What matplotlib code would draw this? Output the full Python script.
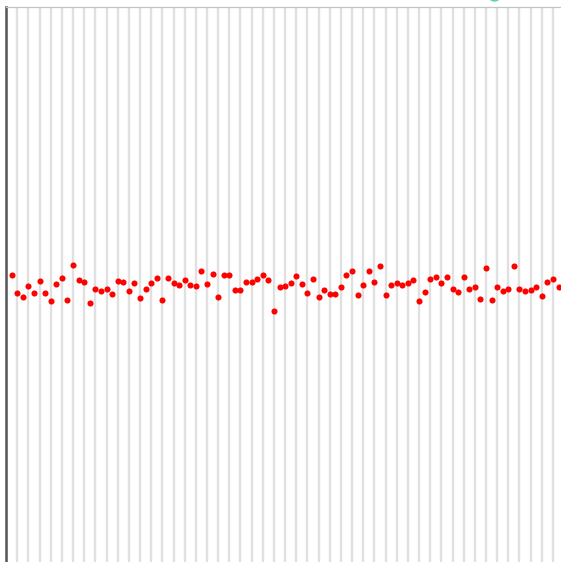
import matplotlib
matplotlib.use("Agg")
import matplotlib.pyplot as plt
from matplotlib.patches import Ellipse

# values (x = 1..99, y on a 0..100 scale)
x_vals = list(range(1, 100))
y_vals = [
    52.0, 48.8, 48.1, 50.0, 48.8, 50.9, 48.7, 47.3, 50.3, 51.5,
    47.5, 53.7, 51.1, 50.7, 46.9, 49.4, 49.1, 49.4, 48.6, 50.9,
    50.7, 49.1, 50.6, 47.9, 49.5, 50.5, 51.5, 47.5, 51.5, 50.6,
    50.1, 51.1, 50.1, 50.0, 52.6, 50.4, 52.2, 48.1, 52.0, 52.0,
    49.2, 49.2, 50.7, 50.7, 51.2, 52.0, 51.1, 45.6, 49.9, 50.0,
    50.5, 51.8, 50.4, 48.7, 51.3, 48.0, 49.2, 48.5, 48.6, 49.8,
    52.0, 52.6, 48.4, 50.1, 52.7, 50.8, 53.5, 48.4, 50.1, 50.6,
    50.2, 50.6, 51.0, 47.4, 49.0, 51.2, 51.7, 50.5, 51.7, 49.5,
    48.9, 51.7, 49.5, 49.9, 47.6, 53.2, 47.5, 49.8, 49.1, 49.5,
    53.5, 49.5, 49.1, 49.3, 49.8, 48.2, 50.7, 51.3, 49.8,
]
grid_x = list(range(0, 101, 2))

fig = plt.figure(figsize=(5.61, 5.62), dpi=100)
W, H = 561, 562
# plot area is larger than the visible crop (runs off right and bottom)
ax = fig.add_axes([6.1 / W, (H - 565) / H, 558 / W, 558 / H])
ax.set_xlim(0, 100)
ax.set_ylim(0, 100)

ax.set_xticks(grid_x)
ax.set_yticks([])
ax.tick_params(length=0, labelbottom=False, labelleft=False)
ax.grid(axis="x", color="#e0e0e0", linewidth=1.7)
ax.set_axisbelow(True)

for side in ["right", "bottom"]:
    ax.spines[side].set_visible(False)
ax.spines["left"].set_color("#555555")
ax.spines["left"].set_linewidth(1.8)
ax.spines["top"].set_color("#c4c4c4")
ax.spines["top"].set_linewidth(0.9)

ax.plot(x_vals, y_vals, "o", color="#ff0000", markersize=4.4,
        markeredgewidth=0, clip_on=False)

# bit of a legend marker peeking in at the top edge
fig.patches.append(Ellipse((494.5 / W, 1 + 4.5 / H), 12 / W, 11 / H,
                           transform=fig.transFigure, color="#66d4a0"))

fig.savefig("out.png", dpi=100)
